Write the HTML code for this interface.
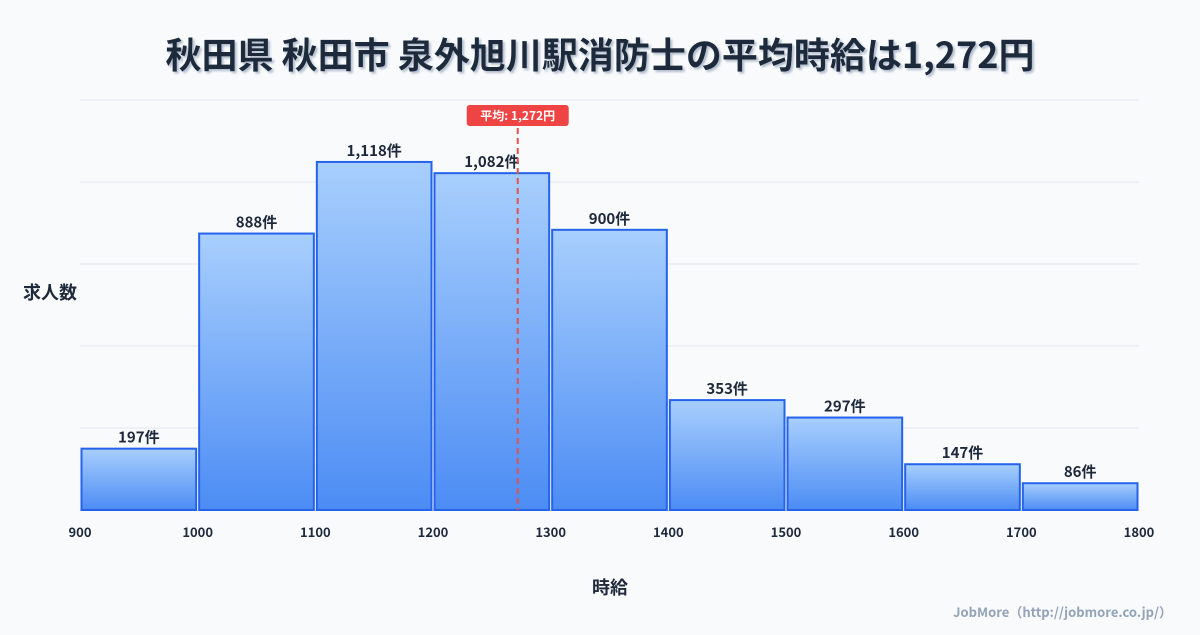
<!DOCTYPE html>
<html><head><meta charset="utf-8"><style>
body{margin:0;background:#f8fafc;}
svg text{font-family:"Noto Sans CJK JP","Liberation Sans",sans-serif;}
</style></head><body>
<svg width="1200" height="630" viewBox="0 0 1200 630" xmlns="http://www.w3.org/2000/svg">
<defs>
<linearGradient id="g" x1="0" y1="0" x2="0" y2="1"><stop offset="0" stop-color="#a8cffd"/><stop offset="1" stop-color="#4c8cf4"/></linearGradient>
<filter id="sh"><feDropShadow dx="2" dy="2" stdDeviation="1" flood-color="#94a3b8" flood-opacity="0.7"/></filter>
</defs>
<rect width="1200" height="630" fill="#f8fafc"/>
<text x="600" y="68" text-anchor="middle" font-size="36" font-weight="bold" fill="#1e293b" filter="url(#sh)">秋田県 秋田市 泉外旭川駅消防士の平均時給は1,272円</text>
<g id="grid"></g>
<g id="bars"></g>
<g id="xt"></g>
<text x="50" y="299" text-anchor="middle" font-size="18" font-weight="bold" fill="#1e293b">求人数</text>
<text x="610" y="594" text-anchor="middle" font-size="18" font-weight="bold" fill="#1e293b">時給</text>
<text x="1172" y="617" text-anchor="end" font-size="13" font-weight="bold" fill="#94a3b8">JobMore（http://jobmore.co.jp/）</text>
<g id="mean"></g>
</svg>
<script>
const binStarts=[900,1000,1100,1200,1300,1400,1500,1600,1700];
const counts=[197,888,1118,1082,900,353,297,147,86];
const xTicks=[900,1000,1100,1200,1300,1400,1500,1600,1700,1800];
const meanValue=1272;
const meanLabel="平均: 1,272円";
const NS="http://www.w3.org/2000/svg";
const x0=80,x1=1139,y0=510,yTop=100,xMin=900,xMax=1800,yMax=1317;
const sx=v=>x0+(v-xMin)/(xMax-xMin)*(x1-x0);
const sy=v=>y0-v/yMax*(y0-yTop);
function mk(t,a,p){const e=document.createElementNS(NS,t);for(const k in a)e.setAttribute(k,a[k]);p.appendChild(e);return e;}
const grid=document.getElementById('grid');
for(let i=0;i<=5;i++){const y=y0-i*(y0-yTop)/5;const l=mk('line',{x1:x0,x2:x1,y1:y,y2:y,stroke:i==0?'#cbd5e1':'#e2e8f0','stroke-width':1},grid);

}
const bars=document.getElementById('bars');
binStarts.forEach((b,i)=>{const xa=sx(b)+1.5,xb=sx(b+100)-1.5,y=sy(counts[i]);
const r=mk('rect',{x:xa,y:y,width:xb-xa,height:y0-y,fill:'url(#g)',stroke:'#2563eb','stroke-width':2},bars);


const t=mk('text',{x:(xa+xb)/2,y:y-6,'text-anchor':'middle','font-size':15,'font-weight':'bold',fill:'#1e293b'},bars);
t.textContent=counts[i].toLocaleString('en-US')+'件';

});
const xt=document.getElementById('xt');
xTicks.forEach(v=>{const t=mk('text',{x:sx(v),y:537,'text-anchor':'middle','font-size':13,'font-weight':'bold',fill:'#1e293b'},xt);
t.textContent=v;

});
const m=document.getElementById('mean');const mx=sx(meanValue);
const ml=mk('line',{x1:mx,x2:mx,y1:128,y2:y0,stroke:'#e05252','stroke-width':2,'stroke-dasharray':'6,4'},m);


const mr=mk('rect',{x:mx-51,y:105,width:102,height:21,rx:3,fill:'#ef4444'},m);


const mt=mk('text',{x:mx,y:120,'text-anchor':'middle','font-size':12,'font-weight':'bold',fill:'#fff'},m);
mt.textContent=meanLabel;


</script>
</body></html>
